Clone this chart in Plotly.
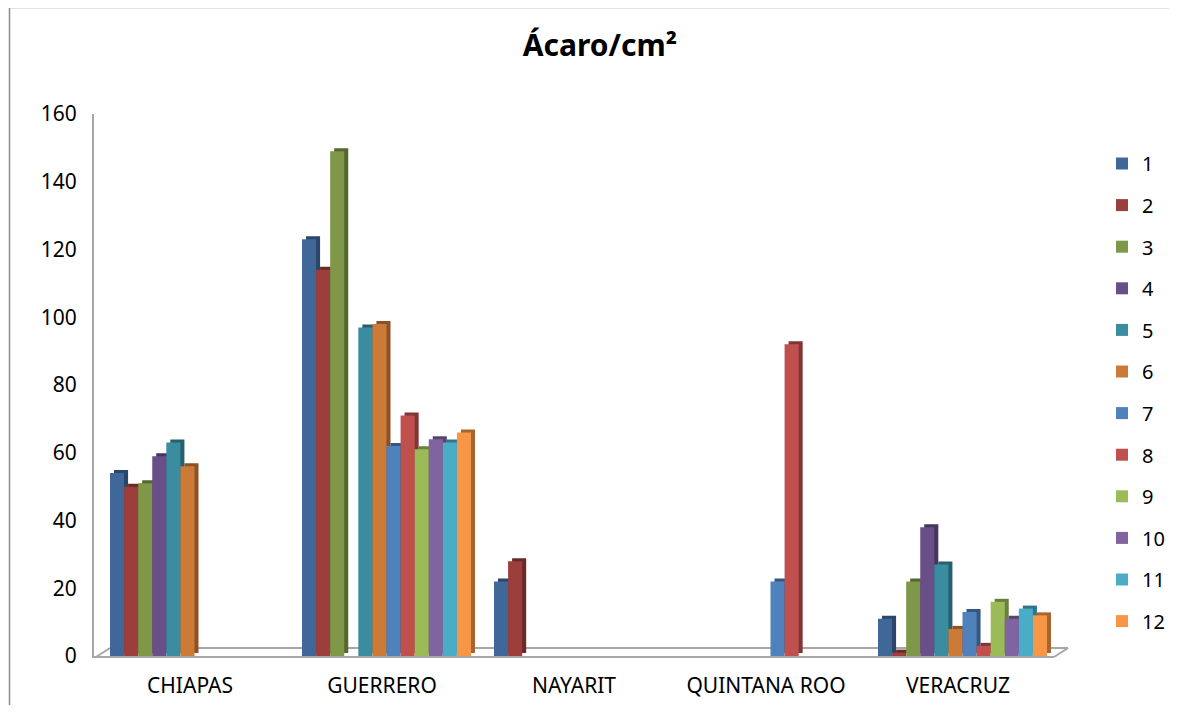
import plotly.graph_objects as go

categories = ["CHIAPAS", "GUERRERO", "NAYARIT", "QUINTANA ROO", "VERACRUZ"]
series_names = ["1", "2", "3", "4", "5", "6", "7", "8", "9", "10", "11", "12"]

s1 = [54, 123, 22, None, 11]
s2 = [50, 114, 28, None, 1]
s3 = [51, 149, None, None, 22]
s4 = [59, None, None, None, 38]
s5 = [63, 97, None, None, 27]
s6 = [56, 98, None, None, 8]
s7 = [None, 62, None, 22, 13]
s8 = [None, 71, None, 92, 3]
s9 = [None, 61, None, None, 16]
s10 = [None, 64, None, None, 11]
s11 = [None, 63, None, None, 14]
s12 = [None, 66, None, None, 12]
all_series = [s1, s2, s3, s4, s5, s6, s7, s8, s9, s10, s11, s12]

colors = ["#3F6899", "#9C3E3B", "#7F9748", "#684F88", "#3A8CA1", "#CC7A37",
          "#4F81BD", "#C0504D", "#9BBB59", "#8064A2", "#4BACC6", "#F79646"]

OFF = 8  # page body margin
W, H = 1177 - 2 * OFF, 713 - 2 * OFF
# plot area in page pixel coordinates
L, R, T, B = 94, 1054, 114, 656
CAT_PX = (R - L) / len(categories)
Y_PX = (B - T) / 160.0

# bar geometry (style), in category units
GROUP_START = -0.5 + 16 / CAT_PX
BAR_W = 169 / 12 / CAT_PX
DEPTH_X = 4 / CAT_PX
DEPTH_Y = 3 / Y_PX


def darken(hexc, f=0.68):
    h = hexc.lstrip("#")
    r, g, b = (int(h[i:i + 2], 16) for i in (0, 2, 4))
    return "#%02X%02X%02X" % (int(r * f), int(g * f), int(b * f))


fig = go.Figure()
# 3D side/top faces behind the fronts
for i, (name, vals, c) in enumerate(zip(series_names, all_series, colors)):
    fig.add_trace(go.Bar(x=categories, y=vals, base=DEPTH_Y, offset=GROUP_START + i * BAR_W + DEPTH_X,
                         width=BAR_W, marker_color=darken(c), marker_line_width=0,
                         showlegend=False, hoverinfo="skip"))
# front faces
for i, (name, vals, c) in enumerate(zip(series_names, all_series, colors)):
    fig.add_trace(go.Bar(x=categories, y=vals, name=name, offset=GROUP_START + i * BAR_W,
                         width=BAR_W, marker_color=c, marker_line_width=0, legendgroup=name))


def px(x):
    return (x - L) / (R - L)


def py(y):
    return (B - y) / (B - T)


def cx(x):
    return (x - OFF) / W


def cy(y):
    return 1 - (y - OFF) / H


font_family = "Noto Sans, DejaVu Sans, sans-serif"
grey = "#A6A6A6"
shapes = [
    dict(type="rect", xref="paper", yref="paper", x0=px(9.5), x1=px(1190), y0=py(7.5), y1=py(730),
         line=dict(color="#8C8C8C", width=1.5), fillcolor="rgba(0,0,0,0)", layer="below"),
    dict(type="line", xref="paper", yref="paper", x0=px(110), x1=px(1068), y0=py(648), y1=py(648),
         line=dict(color=grey, width=2), layer="below"),
    dict(type="line", xref="paper", yref="paper", x0=px(96), x1=px(110), y0=py(657), y1=py(648),
         line=dict(color=grey, width=2), layer="below"),
    dict(type="line", xref="paper", yref="paper", x0=px(1054), x1=px(1068), y0=py(657), y1=py(648),
         line=dict(color=grey, width=2), layer="below"),
]

fig.update_layout(
    width=W, height=H,
    margin=dict(l=L - OFF, r=(OFF + W) - R, t=T - OFF, b=(OFF + H) - B),
    paper_bgcolor="white", plot_bgcolor="white",
    barmode="overlay",
    title=dict(text="<b>Ácaro/cm²</b>", x=px(600), xref="paper", xanchor="center",
               y=cy(45), yanchor="middle",
               font=dict(family=font_family, size=30, color="black")),
    font=dict(family=font_family, size=21, color="black"),
    xaxis=dict(showline=True, linecolor=grey, linewidth=2, ticks="", showgrid=False,
               tickfont=dict(size=21), ticklabelstandoff=10, range=[-0.5, 4.5],
               automargin=False),
    yaxis=dict(range=[0, 160], dtick=20, showline=True, linecolor=grey, linewidth=2,
               ticks="", showgrid=False, zeroline=False, tickfont=dict(size=21),
               ticklabelstandoff=11, automargin=False),
    legend=dict(xref="container", yref="container", x=cx(1102), xanchor="left",
                y=cy(144), yanchor="top", maxheight=650,
                font=dict(size=20), tracegroupgap=12.6, itemwidth=30,
                bgcolor="rgba(0,0,0,0)"),
    shapes=shapes,
)

fig.write_html("out.html")
